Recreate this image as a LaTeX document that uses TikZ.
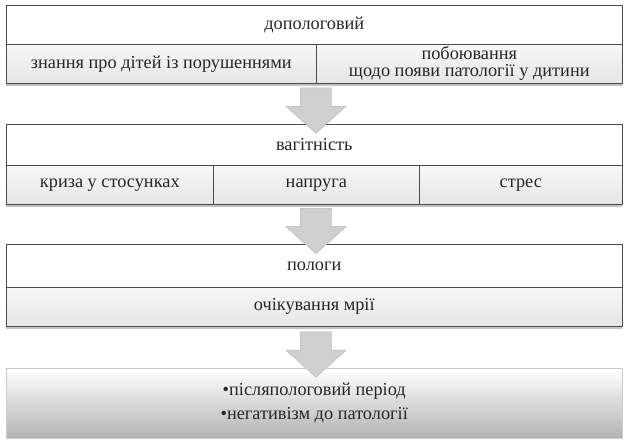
\documentclass[tikz,border=0pt]{standalone}
\usepackage{fontspec}
\setmainfont{Liberation Serif}
\usetikzlibrary{shapes.arrows,shadows}
\begin{document}
\begin{tikzpicture}[x=1pt,y=-1pt,
  txt/.style={font=\fontsize{18.3}{17}\selectfont, text=black!85},
  headbox/.style={txt, draw=black!70, line width=0.6pt, fill=white, anchor=north west, inner sep=0pt,
    drop shadow={shadow xshift=0pt, shadow yshift=-3pt, fill=black!40, opacity=0.6}},
  subbox/.style={txt, draw=black!70, line width=0.6pt, top color=gray!6, bottom color=gray!20, anchor=north west, inner sep=0pt, align=center,
    drop shadow={shadow xshift=0pt, shadow yshift=-3pt, fill=black!40, opacity=0.6}},
  downarrow/.style={single arrow, rotate=-90, draw=gray!55, fill=gray!38, inner sep=15.5pt,
    single arrow head extend=14.5pt, single arrow tip angle=96, minimum height=39pt},
  lastbox/.style={txt, top color=white, bottom color=gray!60, draw=gray!40, line width=0.5pt, anchor=north west, inner sep=0pt, align=center}
]
\useasboundingbox (0,0) rectangle (629,445);

% stage 1
\node[headbox, minimum width=616pt, minimum height=39pt] (h1) at (6,5) {допологовий};
\node[subbox, minimum width=310pt, minimum height=39pt] (s1a) at (6,44) {знання про дітей із порушеннями};
\node[subbox, minimum width=306pt, minimum height=39pt] (s1b) at (316,44) {побоювання\\щодо появи патології у дитини};

% stage 2
\node[headbox, minimum width=616pt, minimum height=41pt] (h2) at (6,124) {вагітність};
\node[subbox, minimum width=207pt, minimum height=39pt] (s2a) at (6,165) {криза у стосунках};
\node[subbox, minimum width=206pt, minimum height=39pt] (s2b) at (213,165) {напруга};
\node[subbox, minimum width=203pt, minimum height=39pt] (s2c) at (419,165) {стрес};

% stage 3
\node[headbox, minimum width=616pt, minimum height=43pt] (h3) at (6,244) {пологи};
\node[subbox, minimum width=616pt, minimum height=39pt] (s3a) at (6,287) {очікування мрії};

% stage 4
\node[lastbox, minimum width=616pt, minimum height=70pt, font=\fontsize{18.3}{24}\selectfont] (h4) at (6,368)
  {•післяпологовий період\\•негативізм до патології};

% arrows
\node[downarrow] (a1) at (316,103.5) {};
\node[downarrow] (a2) at (316,224) {};
\node[downarrow] (a3) at (316,347.5) {};
\end{tikzpicture}
\end{document}
